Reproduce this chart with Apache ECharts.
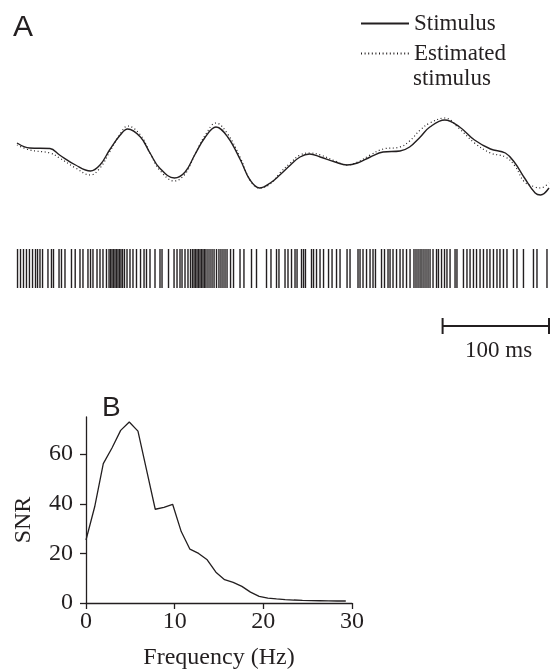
<!DOCTYPE html>
<html>
<head>
<meta charset="utf-8">
<script src="https://cdn.jsdelivr.net/npm/echarts@6/dist/echarts.min.js"></script>
<style>
  html, body { margin: 0; padding: 0; background: #fff; }
  #chart { width: 552px; height: 671px; }
</style>
</head>
<body>
<div id="chart"></div>
<script>
// panel A: stimulus and its estimate (time in ms, arbitrary units)
var stimTimes = [0, 12, 31, 40, 55, 69, 78, 87, 97, 104, 116, 125, 134, 148, 158, 167, 177, 187, 198, 210, 219, 228, 238, 247, 257, 266, 275, 285, 299, 310, 320, 332, 344, 360, 369, 379, 388, 402, 416, 430, 445, 459, 468, 477, 487, 492, 500];
var stimulus = [17, 12, 11.5, 5, -5, -11, -5, 10, 25, 31, 23, 7, -8, -18, -12, 5, 23, 33, 23, 0, -20, -28, -23, -15, -5, 3, 6, 3, -2, -5, -3, 3, 8, 9, 13, 23, 33, 40, 33, 20, 11, 7, -3, -18, -33, -35, -28];
var estimated = [15, 10, 7, 2, -8, -15, -8, 8, 26, 34, 25, 7, -10, -21, -14, 5, 25, 37, 26, 2, -20, -28, -24, -13, -3, 5, 7, 5, -1, -5, -2, 5, 11, 13, 19, 30, 37, 42, 31, 17, 7, 3, -6, -22, -27, -28, -23];

// spike times (ms)
var spikeTimes = [0.5, 3.3, 6.1, 8.9, 11.7, 14.6, 17.4, 19.3, 21.6, 24.0, 29.1, 32.4, 34.3, 39.5, 41.8, 45.1, 51.2, 54.7, 59.2, 62.0,
  66.7, 69.1, 71.4, 75.2, 78.0, 80.8, 84.1, 86.5, 87.9, 89.3, 90.7, 92.1, 93.5, 94.9, 96.3, 97.7, 99.2, 101.0, 103.4, 106.2,
  109.0, 112.3, 116.1, 119.4, 121.7, 125.0, 129.7, 134.4, 136.3, 142.4, 147.6, 150.4, 153.2, 155.1, 157.9, 160.7, 163.1, 164.9, 166.4, 167.8,
  169.2, 170.6, 172.0, 173.4, 174.8, 176.2, 177.6, 179.5, 181.4, 183.3, 185.2, 187.5, 189.8, 191.7, 193.6, 195.5, 197.4, 200.7, 203.5, 209.6,
  213.3, 220.4, 225.1, 234.5, 238.7, 243.9, 246.2, 251.9, 254.7, 258.0, 261.3, 263.2, 267.4, 269.3, 271.1, 276.8, 278.7, 281.5, 284.8, 288.1,
  292.8, 296.1, 300.3, 303.6, 310.2, 313.0, 320.5, 322.4, 325.2, 328.5, 331.8, 334.6, 336.9, 342.6, 345.4, 348.7, 350.6, 353.4, 356.7, 360.0,
  362.8, 366.1, 369.4, 373.1, 375.0, 376.9, 378.8, 380.6, 382.5, 384.4, 386.3, 388.2, 391.0, 394.3, 396.1, 399.0, 401.8, 404.1, 407.0, 411.7,
  413.5, 419.6, 422.9, 425.8, 429.0, 431.9, 435.2, 438.4, 441.7, 444.5, 447.8, 451.1, 453.9, 457.2, 460.5, 466.6, 469.9, 476.0, 485.4, 488.7,
  498.1];

// 100 ms scale bar
var scaleBar = [400, 500];

// panel B: signal-to-noise ratio vs frequency
var freqs = [0, 0.98, 1.95, 2.93, 3.91, 4.88, 5.86, 6.84, 7.81, 8.79, 9.77, 10.74, 11.72, 12.70, 13.67, 14.65, 15.63, 16.60, 17.58, 18.55, 19.53, 20.51, 21.48, 22.46, 23.44, 24.41, 25.39, 26.37, 27.34, 28.32, 29.30];
var snr = [25.4, 38.8, 56.2, 62.5, 69.6, 73, 69.3, 53.5, 37.8, 38.6, 39.8, 28.8, 21.7, 20, 17.4, 12.4, 9.4, 8.3, 6.7, 4.4, 2.7, 2.0, 1.7, 1.4, 1.2, 1.05, 0.95, 0.9, 0.85, 0.8, 0.8];
var freqTicks = [0, 10, 20, 30];
var snrTicks = [0, 20, 40, 60];

var ink = '#231f20';
var serif = 'Liberation Serif';

function pairs(xs, ys) {
  return xs.map(function (x, i) { return [x, ys[i]]; });
}

var chart = echarts.init(document.getElementById('chart'));

var option = {
  animation: false,
  backgroundColor: '#fff',
  textStyle: { fontFamily: serif, color: ink },
  legend: {
    orient: 'vertical',
    left: 355,
    top: 7,
    itemWidth: 48,
    itemHeight: 10,
    itemGap: 7,
    itemStyle: { opacity: 0 },
    data: ['Stimulus', 'Estimated'],
    textStyle: { fontFamily: serif, fontSize: 23, color: ink }
  },
  grid: [
    { left: 17, right: 3, top: 110, height: 100 },
    { left: 17, right: 3, top: 249, height: 39 },
    { left: 17, right: 3, top: 316, height: 20 },
    { left: 86, right: 200, top: 417, bottom: 68 }
  ],
  xAxis: [
    { gridIndex: 0, type: 'value', min: 0, max: 500, show: false },
    { gridIndex: 1, type: 'value', min: 0, max: 500, show: false },
    { gridIndex: 2, type: 'value', min: 0, max: 500, show: false },
    {
      gridIndex: 3, type: 'value', min: 0, max: 30, interval: 10,
      name: 'Frequency (Hz)', nameLocation: 'middle', nameGap: 43,
      nameTextStyle: { fontFamily: serif, fontSize: 24, color: ink },
      axisLine: { lineStyle: { color: ink, width: 1.3 } },
      axisTick: { length: 6, lineStyle: { color: ink, width: 1.3 }, customValues: freqTicks },
      axisLabel: { margin: 7, fontFamily: serif, fontSize: 24, color: ink, customValues: freqTicks },
      splitLine: { show: false }
    }
  ],
  yAxis: [
    { gridIndex: 0, type: 'value', min: -50, max: 50, show: false },
    { gridIndex: 1, type: 'value', min: 0, max: 1, show: false },
    { gridIndex: 2, type: 'value', min: 0, max: 1, show: false },
    {
      gridIndex: 3, type: 'value', min: 0, max: 75,
      name: 'SNR', nameLocation: 'middle', nameGap: 50,
      nameTextStyle: { fontFamily: serif, fontSize: 24, color: ink, padding: [0, 20, 0, 0] },
      axisLine: { show: true, lineStyle: { color: ink, width: 1.3 } },
      axisTick: { show: true, length: 6, lineStyle: { color: ink, width: 1.3 }, customValues: snrTicks },
      axisLabel: { margin: 13, fontFamily: serif, fontSize: 24, color: ink, customValues: snrTicks },
      splitLine: { show: false }
    }
  ],
  graphic: [
    { type: 'text', left: 13, top: 13, style: { text: 'A', font: '30px "Liberation Sans"', fill: ink } },
    { type: 'text', left: 102, top: 394, style: { text: 'B', font: '28px "Liberation Sans"', fill: ink } },
    { type: 'text', left: 413, top: 67, style: { text: 'stimulus', font: '23px "Liberation Serif"', fill: ink } },
    { type: 'text', left: 465, top: 339, style: { text: '100 ms', font: '23px "Liberation Serif"', fill: ink } }
  ],
  series: [
    {
      name: 'Stimulus', type: 'line', xAxisIndex: 0, yAxisIndex: 0,
      data: pairs(stimTimes, stimulus), smooth: 0.4, symbol: 'none',
      lineStyle: { color: ink, width: 1.4 }, itemStyle: { color: ink }
    },
    {
      name: 'Estimated', type: 'line', xAxisIndex: 0, yAxisIndex: 0,
      data: pairs(stimTimes, estimated), smooth: 0.4, symbol: 'none',
      lineStyle: { color: ink, width: 1.2, type: [1, 2.6] }, itemStyle: { color: ink }
    },
    {
      name: 'Spikes', type: 'custom', xAxisIndex: 1, yAxisIndex: 1,
      data: spikeTimes.map(function (t) { return [t]; }),
      encode: { x: 0 },
      renderItem: function (params, api) {
        var x = api.coord([api.value(0), 0])[0];
        var top = api.coord([0, 1])[1];
        var bottom = api.coord([0, 0])[1];
        return {
          type: 'line',
          shape: { x1: x, y1: top, x2: x, y2: bottom },
          style: { stroke: ink, lineWidth: 1.4 }
        };
      }
    },
    {
      name: 'Scale', type: 'line', xAxisIndex: 2, yAxisIndex: 2,
      data: scaleBar.map(function (t) { return [t, 0.5]; }),
      symbol: 'rect', symbolSize: [2, 16], showSymbol: true,
      lineStyle: { color: ink, width: 2 }, itemStyle: { color: ink }
    },
    {
      name: 'SNR', type: 'line', xAxisIndex: 3, yAxisIndex: 3,
      data: pairs(freqs, snr), symbol: 'none',
      lineStyle: { color: ink, width: 1.3 }
    }
  ]
};

chart.setOption(option);
</script>
</body>
</html>
